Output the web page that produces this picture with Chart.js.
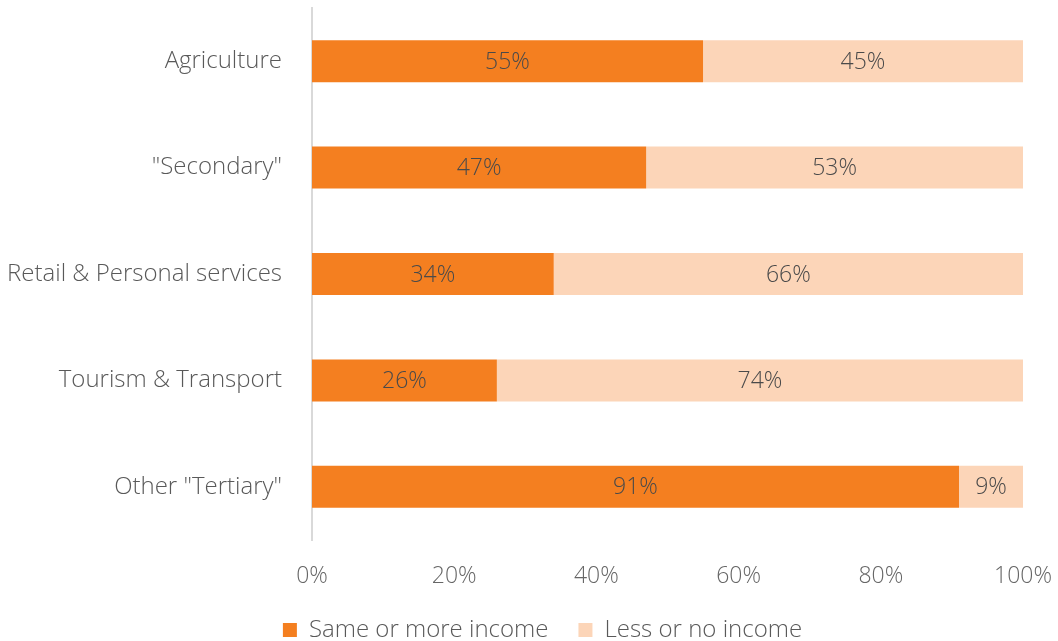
<!DOCTYPE html>
<html>
<head>
<meta charset="utf-8">
<title>Income by sector</title>
<script src="https://cdn.jsdelivr.net/npm/chart.js@4.4.1/dist/chart.umd.min.js"></script>
<style>
    html, body { margin: 0; padding: 0; background: #fff; overflow: hidden; }
    canvas { display: block; }
</style>
</head>
<body>
<canvas id="incomeChart" width="1058" height="652"></canvas>
<script>
// Chart data
const categories = ['Agriculture', '"Secondary"', 'Retail & Personal services', 'Tourism & Transport', 'Other "Tertiary"'];
const sameOrMore = [55, 47, 34, 26, 91];
const lessOrNone = [45, 53, 66, 74, 9];
const xTicks = [0, 20, 40, 60, 80, 100];

const FONT = '"Open Sans", "Liberation Sans", sans-serif';

// Draw the value inside each bar segment
const barLabels = {
    id: 'barLabels',
    afterDatasetsDraw(chart) {
        const ctx = chart.ctx;
        ctx.save();
        ctx.font = `300 23px ${FONT}`;
        ctx.fillStyle = '#4a4a4a';
        ctx.textAlign = 'center';
        ctx.textBaseline = 'middle';
        chart.data.datasets.forEach((ds, i) => {
            const meta = chart.getDatasetMeta(i);
            meta.data.forEach((bar, j) => {
                const p = bar.getCenterPoint();
                ctx.fillText(ds.data[j] + '%', p.x, p.y + 1);
            });
        });
        ctx.restore();
    }
};

// Nudge the legend a bit to the right, like the original
const legendShift = {
    id: 'legendShift',
    afterLayout(chart) {
        chart.legend.left += 31;
        chart.legend.right += 31;
    }
};

const ctx = document.getElementById('incomeChart').getContext('2d');

new Chart(ctx, {
    type: 'bar',
    data: {
        labels: categories,
        datasets: [{
            label: 'Same or more income',
            data: sameOrMore,
            backgroundColor: '#f47f20',
            categoryPercentage: 1,
            barPercentage: 0.395
        }, {
            label: 'Less or no income',
            data: lessOrNone,
            backgroundColor: '#fcd5b8',
            categoryPercentage: 1,
            barPercentage: 0.395
        }]
    },
    options: {
        indexAxis: 'y',
        responsive: false,
        animation: false,
        layout: {
            padding: { top: 8, right: 35, left: 0, bottom: 0 }
        },
        plugins: {
            legend: {
                position: 'bottom',
                labels: {
                    color: '#595959',
                    font: { family: FONT, size: 24, weight: 300 },
                    boxWidth: 14,
                    boxHeight: 14,
                    padding: 30
                }
            },
            tooltip: { enabled: false }
        },
        scales: {
            x: {
                stacked: true,
                min: 0,
                max: 100,
                afterBuildTicks: axis => {
                    axis.ticks = xTicks.map(v => ({ value: v }));
                },
                afterFit: axis => {
                    axis.paddingLeft = 0;
                    axis.paddingRight = 0;
                    axis.height = 48;
                },
                grid: { display: false, drawTicks: false },
                border: { display: false },
                ticks: {
                    color: '#666666',
                    font: { family: FONT, size: 23, weight: 300, lineHeight: 1 },
                    padding: 25,
                    maxRotation: 0,
                    callback: value => `${value}%`
                }
            },
            y: {
                stacked: true,
                afterFit: axis => {
                    axis.width = 312;
                    axis.paddingTop = 0;
                    axis.paddingBottom = 0;
                },
                grid: { display: false, drawTicks: false },
                border: { color: '#d9d9d9', width: 2 },
                ticks: {
                    color: '#595959',
                    font: { family: FONT, size: 24, weight: 300 },
                    padding: 30
                }
            }
        }
    },
    plugins: [barLabels, legendShift]
});
</script>
</body>
</html>
